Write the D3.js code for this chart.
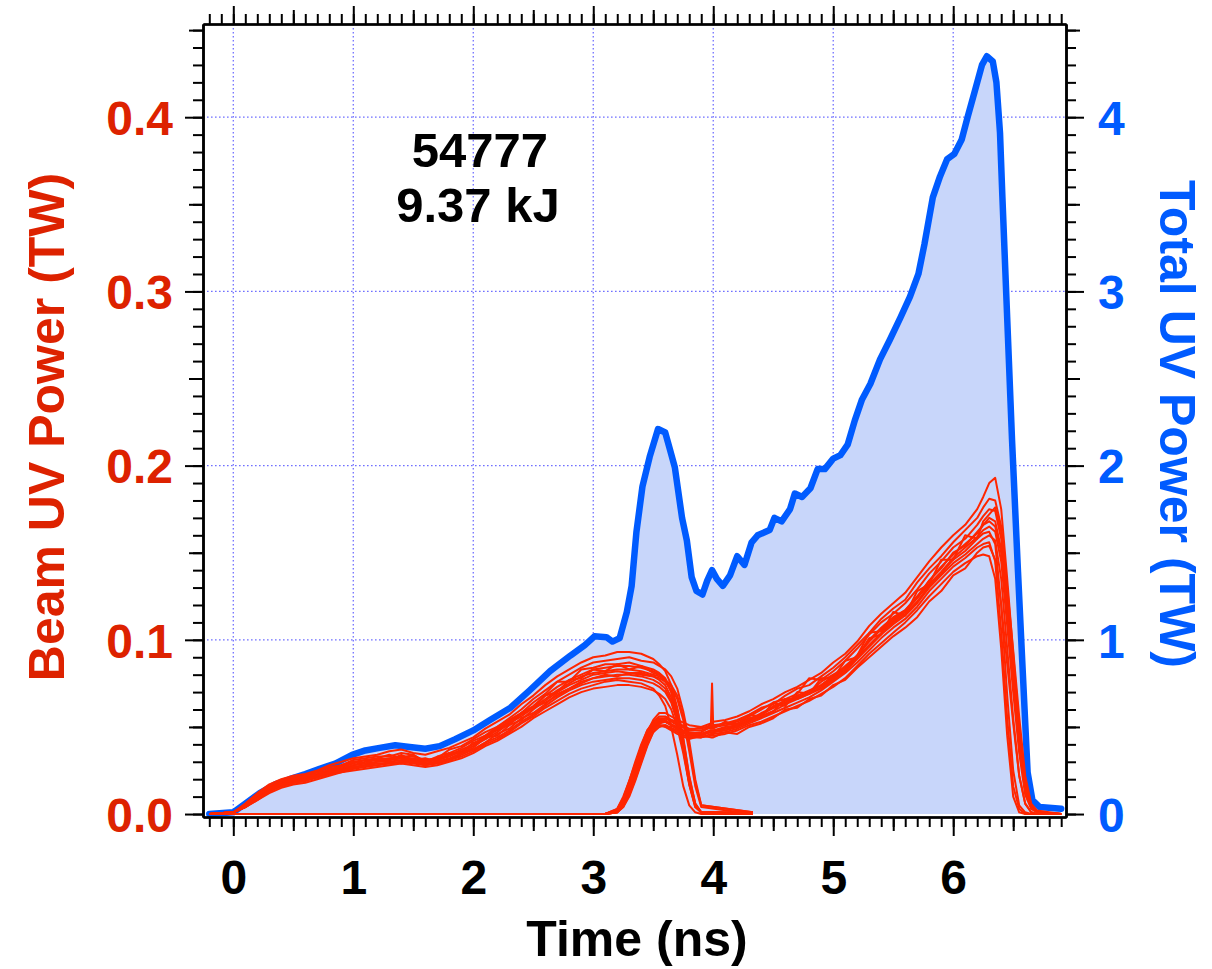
<!DOCTYPE html>
<html>
<head>
<meta charset="utf-8">
<script src="https://cdn.jsdelivr.net/npm/d3@7"></script>
<style>
  html, body { margin: 0; padding: 0; background: #fff; }
  svg { display: block; font-family: "Liberation Sans", Arial, Helvetica, sans-serif; font-weight: bold; }
</style>
</head>
<body>
<svg id="chart" width="1212" height="969"></svg>
<script>
// ---------------- Data ----------------
// Shot annotation
const shotNumber = "54777";
const shotEnergy = "9.37 kJ";

// Total UV power (TW) vs time (ns)
const totalTime = [-0.2, 0.0, 0.1, 0.22, 0.35, 0.47, 0.6, 0.72, 0.85, 0.99, 1.1, 1.22, 1.35, 1.47, 1.6, 1.72, 1.85, 2.0, 2.14, 2.31, 2.47, 2.64, 2.81, 2.93, 3.01, 3.11, 3.16, 3.22, 3.28, 3.32, 3.36, 3.41, 3.47, 3.54, 3.6, 3.64, 3.68, 3.74, 3.78, 3.82, 3.86, 3.91, 3.95, 3.99, 4.03, 4.08, 4.14, 4.2, 4.26, 4.32, 4.37, 4.47, 4.51, 4.57, 4.64, 4.68, 4.74, 4.81, 4.87, 4.93, 5.0, 5.06, 5.12, 5.18, 5.24, 5.31, 5.39, 5.47, 5.56, 5.64, 5.71, 5.76, 5.83, 5.89, 5.95, 6.01, 6.07, 6.12, 6.18, 6.24, 6.28, 6.33, 6.36, 6.39, 6.41, 6.49, 6.54, 6.58, 6.62, 6.66, 6.72, 6.9];
const totalPower = [0.0, 0.01, 0.06, 0.12, 0.17, 0.20, 0.23, 0.26, 0.29, 0.34, 0.365, 0.38, 0.395, 0.385, 0.375, 0.39, 0.43, 0.48, 0.54, 0.61, 0.71, 0.82, 0.91, 0.97, 1.02, 1.015, 0.99, 1.01, 1.16, 1.31, 1.62, 1.88, 2.05, 2.21, 2.19, 2.09, 1.99, 1.70, 1.57, 1.36, 1.28, 1.26, 1.34, 1.40, 1.35, 1.31, 1.37, 1.48, 1.43, 1.56, 1.60, 1.63, 1.70, 1.68, 1.75, 1.84, 1.82, 1.87, 1.98, 1.98, 2.04, 2.06, 2.12, 2.26, 2.38, 2.47, 2.61, 2.72, 2.85, 2.97, 3.10, 3.27, 3.54, 3.66, 3.76, 3.79, 3.87, 4.00, 4.15, 4.30, 4.35, 4.32, 4.20, 3.91, 3.54, 2.15, 1.39, 0.81, 0.24, 0.08, 0.04, 0.03];

// Foot-pulse beams: shared time base (ns) and power per beam (TW)
const footTime = [-0.2, 0.0, 0.1, 0.2, 0.3, 0.4, 0.5, 0.6, 0.7, 0.8, 0.9, 1.0, 1.1, 1.2, 1.3, 1.4, 1.5, 1.6, 1.7, 1.8, 1.9, 2.0, 2.1, 2.2, 2.3, 2.4, 2.5, 2.6, 2.7, 2.8, 2.9, 3.0, 3.1, 3.2, 3.3, 3.4, 3.5, 3.55, 3.6, 3.65, 3.7, 3.75, 3.8, 3.85, 3.9, 4.33];
const footBeam1  = [0, 0.001, 0.006, 0.012, 0.017, 0.020, 0.022, 0.023, 0.025, 0.028, 0.030, 0.032, 0.033, 0.034, 0.036, 0.037, 0.035, 0.034, 0.036, 0.038, 0.041, 0.044, 0.049, 0.053, 0.057, 0.063, 0.068, 0.074, 0.079, 0.083, 0.087, 0.090, 0.091, 0.093, 0.093, 0.092, 0.089, 0.086, 0.082, 0.074, 0.061, 0.043, 0.021, 0.006, 0.001, 0.001];
const footBeam2  = [0, 0.001, 0.005, 0.011, 0.016, 0.019, 0.021, 0.022, 0.024, 0.027, 0.028, 0.031, 0.032, 0.033, 0.033, 0.035, 0.034, 0.030, 0.032, 0.037, 0.039, 0.043, 0.047, 0.050, 0.055, 0.060, 0.066, 0.071, 0.076, 0.080, 0.084, 0.087, 0.088, 0.089, 0.090, 0.088, 0.087, 0.085, 0.083, 0.079, 0.072, 0.059, 0.042, 0.020, 0.005, 0.001];
const footBeam3  = [0, 0.001, 0.005, 0.010, 0.015, 0.019, 0.020, 0.022, 0.024, 0.025, 0.028, 0.030, 0.031, 0.032, 0.034, 0.032, 0.034, 0.030, 0.033, 0.035, 0.038, 0.042, 0.045, 0.050, 0.054, 0.058, 0.064, 0.069, 0.076, 0.076, 0.083, 0.084, 0.086, 0.086, 0.087, 0.085, 0.083, 0.081, 0.078, 0.070, 0.058, 0.041, 0.019, 0.005, 0.001, 0];
const footBeam4  = [0, 0.001, 0.004, 0.010, 0.015, 0.018, 0.020, 0.021, 0.023, 0.025, 0.027, 0.029, 0.031, 0.031, 0.032, 0.033, 0.033, 0.031, 0.032, 0.034, 0.037, 0.040, 0.045, 0.048, 0.053, 0.058, 0.062, 0.068, 0.073, 0.077, 0.080, 0.083, 0.084, 0.085, 0.085, 0.084, 0.082, 0.080, 0.077, 0.070, 0.057, 0.040, 0.019, 0.005, 0.001, 0];
const footBeam5  = [0, 0.001, 0.005, 0.009, 0.014, 0.018, 0.019, 0.021, 0.022, 0.025, 0.026, 0.028, 0.030, 0.031, 0.031, 0.032, 0.032, 0.030, 0.031, 0.034, 0.036, 0.039, 0.043, 0.047, 0.052, 0.056, 0.061, 0.066, 0.071, 0.075, 0.079, 0.081, 0.082, 0.083, 0.083, 0.082, 0.080, 0.079, 0.077, 0.074, 0.068, 0.056, 0.039, 0.018, 0.005, 0.001];
const footBeam6  = [0, 0.001, 0.005, 0.010, 0.014, 0.017, 0.019, 0.020, 0.022, 0.024, 0.026, 0.028, 0.029, 0.030, 0.031, 0.032, 0.031, 0.030, 0.031, 0.033, 0.036, 0.039, 0.044, 0.045, 0.051, 0.054, 0.060, 0.065, 0.070, 0.074, 0.077, 0.080, 0.081, 0.082, 0.081, 0.081, 0.079, 0.077, 0.074, 0.067, 0.055, 0.039, 0.018, 0.005, 0.001, 0];
const footBeam7  = [0, 0.001, 0.004, 0.009, 0.014, 0.017, 0.019, 0.020, 0.022, 0.023, 0.026, 0.027, 0.028, 0.030, 0.030, 0.031, 0.031, 0.029, 0.030, 0.032, 0.035, 0.038, 0.044, 0.049, 0.053, 0.057, 0.061, 0.064, 0.068, 0.072, 0.075, 0.078, 0.079, 0.080, 0.080, 0.079, 0.077, 0.075, 0.072, 0.065, 0.054, 0.038, 0.018, 0.005, 0.001, 0];
const footBeam8  = [0, 0.001, 0.004, 0.009, 0.013, 0.016, 0.018, 0.020, 0.021, 0.023, 0.025, 0.027, 0.028, 0.029, 0.029, 0.030, 0.030, 0.029, 0.029, 0.031, 0.034, 0.037, 0.041, 0.044, 0.048, 0.053, 0.057, 0.062, 0.067, 0.071, 0.074, 0.076, 0.077, 0.078, 0.078, 0.077, 0.075, 0.073, 0.070, 0.064, 0.053, 0.037, 0.017, 0.004, 0.001, 0.001];
const footBeam9  = [0, 0.001, 0.004, 0.008, 0.013, 0.016, 0.018, 0.019, 0.021, 0.023, 0.024, 0.026, 0.027, 0.028, 0.029, 0.030, 0.029, 0.028, 0.029, 0.031, 0.033, 0.036, 0.040, 0.043, 0.047, 0.052, 0.056, 0.061, 0.065, 0.069, 0.072, 0.074, 0.076, 0.077, 0.076, 0.075, 0.072, 0.068, 0.062, 0.050, 0.034, 0.016, 0.005, 0.001, 0, 0];
const footBeam10 = [0, 0.001, 0.004, 0.008, 0.012, 0.015, 0.017, 0.018, 0.020, 0.022, 0.024, 0.025, 0.026, 0.027, 0.028, 0.029, 0.028, 0.027, 0.028, 0.030, 0.032, 0.035, 0.039, 0.042, 0.046, 0.050, 0.055, 0.059, 0.063, 0.067, 0.070, 0.072, 0.073, 0.074, 0.074, 0.073, 0.071, 0.069, 0.066, 0.060, 0.050, 0.035, 0.017, 0.004, 0.001, 0];
const footBeam11 = [0, 0.001, 0.005, 0.011, 0.015, 0.017, 0.020, 0.022, 0.022, 0.026, 0.027, 0.030, 0.029, 0.032, 0.031, 0.034, 0.031, 0.032, 0.030, 0.035, 0.035, 0.041, 0.043, 0.049, 0.051, 0.058, 0.061, 0.068, 0.070, 0.077, 0.078, 0.083, 0.082, 0.086, 0.083, 0.085, 0.081, 0.080, 0.076, 0.071, 0.060, 0.044, 0.022, 0.006, 0.001, 0];
const footBeam12 = [0, 0.001, 0.004, 0.009, 0.013, 0.017, 0.018, 0.019, 0.022, 0.024, 0.025, 0.026, 0.028, 0.028, 0.030, 0.029, 0.030, 0.028, 0.030, 0.031, 0.035, 0.037, 0.041, 0.046, 0.049, 0.055, 0.058, 0.063, 0.069, 0.072, 0.076, 0.078, 0.080, 0.079, 0.081, 0.080, 0.079, 0.078, 0.076, 0.073, 0.066, 0.054, 0.036, 0.016, 0.004, 0];

// Main-pulse beams: shared time base (ns) and power per beam (TW)
const mainTime = [-0.2, 3.1, 3.2, 3.25, 3.3, 3.35, 3.4, 3.45, 3.5, 3.55, 3.6, 3.7, 3.8, 3.9, 3.98, 3.99, 4.0, 4.1, 4.2, 4.3, 4.4, 4.5, 4.6, 4.7, 4.8, 4.9, 5.0, 5.1, 5.2, 5.3, 5.4, 5.5, 5.6, 5.7, 5.8, 5.9, 6.0, 6.1, 6.2, 6.25, 6.3, 6.35, 6.4, 6.45, 6.5, 6.55, 6.6, 6.65, 6.7, 6.9];
const mainBeam1  = [0, 0, 0.001, 0.005, 0.013, 0.024, 0.036, 0.047, 0.054, 0.058, 0.058, 0.054, 0.051, 0.050, 0.052, 0.052, 0.053, 0.054, 0.056, 0.059, 0.063, 0.066, 0.070, 0.073, 0.077, 0.081, 0.087, 0.092, 0.099, 0.108, 0.115, 0.121, 0.127, 0.136, 0.145, 0.153, 0.160, 0.166, 0.175, 0.182, 0.190, 0.193, 0.175, 0.135, 0.092, 0.050, 0.018, 0.005, 0.001, 0];
const mainBeam2  = [0, 0, 0.002, 0.008, 0.017, 0.028, 0.039, 0.048, 0.053, 0.056, 0.056, 0.052, 0.049, 0.049, 0.051, 0.051, 0.051, 0.052, 0.054, 0.057, 0.061, 0.063, 0.068, 0.072, 0.074, 0.079, 0.084, 0.090, 0.097, 0.104, 0.112, 0.118, 0.123, 0.133, 0.141, 0.148, 0.156, 0.163, 0.170, 0.176, 0.181, 0.180, 0.165, 0.128, 0.088, 0.048, 0.016, 0.004, 0.001, 0];
const mainBeam3  = [0, 0, 0.001, 0.006, 0.014, 0.024, 0.035, 0.045, 0.052, 0.055, 0.055, 0.051, 0.048, 0.048, 0.050, 0.050, 0.050, 0.052, 0.053, 0.056, 0.060, 0.064, 0.066, 0.069, 0.078, 0.077, 0.082, 0.088, 0.095, 0.103, 0.110, 0.115, 0.121, 0.129, 0.138, 0.145, 0.153, 0.158, 0.166, 0.171, 0.175, 0.174, 0.158, 0.125, 0.088, 0.050, 0.018, 0.005, 0.001, 0];
const mainBeam4  = [0, 0, 0.003, 0.009, 0.018, 0.028, 0.038, 0.046, 0.051, 0.053, 0.053, 0.050, 0.046, 0.046, 0.048, 0.048, 0.048, 0.049, 0.051, 0.054, 0.058, 0.061, 0.064, 0.068, 0.071, 0.074, 0.079, 0.085, 0.091, 0.099, 0.106, 0.112, 0.117, 0.124, 0.134, 0.142, 0.149, 0.155, 0.161, 0.166, 0.170, 0.168, 0.152, 0.118, 0.082, 0.044, 0.015, 0.004, 0.001, 0];
const mainBeam5  = [0, 0, 0.002, 0.007, 0.015, 0.025, 0.036, 0.045, 0.051, 0.054, 0.054, 0.049, 0.046, 0.047, 0.050, 0.075, 0.050, 0.051, 0.052, 0.055, 0.057, 0.062, 0.065, 0.067, 0.070, 0.076, 0.080, 0.084, 0.091, 0.100, 0.107, 0.113, 0.117, 0.125, 0.134, 0.141, 0.150, 0.154, 0.162, 0.166, 0.168, 0.165, 0.150, 0.115, 0.078, 0.040, 0.013, 0.004, 0.001, 0];
const mainBeam6  = [0, 0, 0.002, 0.006, 0.013, 0.023, 0.034, 0.043, 0.050, 0.053, 0.053, 0.049, 0.047, 0.046, 0.048, 0.048, 0.048, 0.050, 0.051, 0.054, 0.057, 0.061, 0.064, 0.067, 0.070, 0.074, 0.079, 0.083, 0.091, 0.104, 0.105, 0.111, 0.116, 0.124, 0.132, 0.139, 0.147, 0.153, 0.159, 0.163, 0.165, 0.162, 0.145, 0.108, 0.070, 0.035, 0.011, 0.003, 0.001, 0];
const mainBeam7  = [0, 0, 0.003, 0.010, 0.019, 0.030, 0.040, 0.048, 0.052, 0.054, 0.053, 0.049, 0.045, 0.046, 0.047, 0.047, 0.047, 0.049, 0.050, 0.053, 0.056, 0.059, 0.063, 0.066, 0.069, 0.073, 0.078, 0.083, 0.090, 0.097, 0.104, 0.110, 0.115, 0.122, 0.131, 0.138, 0.146, 0.151, 0.158, 0.161, 0.162, 0.155, 0.120, 0.068, 0.025, 0.005, 0.001, 0, 0, 0];
const mainBeam8  = [0, 0, 0.001, 0.005, 0.012, 0.021, 0.032, 0.042, 0.049, 0.052, 0.053, 0.049, 0.046, 0.045, 0.047, 0.047, 0.047, 0.048, 0.050, 0.053, 0.056, 0.059, 0.066, 0.066, 0.069, 0.072, 0.077, 0.082, 0.089, 0.096, 0.103, 0.109, 0.114, 0.121, 0.130, 0.137, 0.144, 0.149, 0.155, 0.158, 0.160, 0.157, 0.135, 0.095, 0.055, 0.022, 0.006, 0.001, 0, 0];
const mainBeam9  = [0, 0, 0.002, 0.008, 0.016, 0.026, 0.036, 0.044, 0.049, 0.051, 0.051, 0.048, 0.045, 0.044, 0.046, 0.046, 0.046, 0.047, 0.049, 0.052, 0.055, 0.058, 0.061, 0.064, 0.067, 0.071, 0.076, 0.081, 0.087, 0.094, 0.101, 0.107, 0.112, 0.119, 0.128, 0.135, 0.142, 0.147, 0.153, 0.155, 0.156, 0.145, 0.105, 0.055, 0.016, 0.003, 0, 0, 0, 0];
const mainBeam10 = [0, 0, 0.001, 0.004, 0.011, 0.020, 0.030, 0.040, 0.047, 0.050, 0.051, 0.047, 0.044, 0.044, 0.045, 0.045, 0.045, 0.046, 0.048, 0.051, 0.053, 0.056, 0.059, 0.062, 0.065, 0.069, 0.073, 0.078, 0.085, 0.092, 0.098, 0.104, 0.110, 0.117, 0.125, 0.132, 0.139, 0.144, 0.148, 0.149, 0.148, 0.135, 0.095, 0.045, 0.010, 0.001, 0, 0, 0, 0];
const mainBeam11 = [0, 0, 0.001, 0.004, 0.010, 0.019, 0.029, 0.039, 0.047, 0.052, 0.055, 0.053, 0.048, 0.050, 0.049, 0.049, 0.049, 0.053, 0.051, 0.057, 0.056, 0.064, 0.062, 0.070, 0.069, 0.078, 0.078, 0.088, 0.090, 0.101, 0.103, 0.116, 0.114, 0.128, 0.132, 0.146, 0.146, 0.160, 0.158, 0.168, 0.172, 0.176, 0.162, 0.130, 0.094, 0.056, 0.022, 0.006, 0.002, 0];
const mainBeam12 = [0, 0, 0.002, 0.009, 0.019, 0.029, 0.038, 0.045, 0.049, 0.051, 0.050, 0.046, 0.043, 0.045, 0.044, 0.044, 0.044, 0.047, 0.046, 0.050, 0.052, 0.055, 0.060, 0.061, 0.066, 0.068, 0.074, 0.077, 0.084, 0.090, 0.096, 0.102, 0.107, 0.113, 0.122, 0.128, 0.137, 0.141, 0.150, 0.153, 0.154, 0.146, 0.120, 0.086, 0.052, 0.022, 0.006, 0.001, 0, 0];

// Axis tick labels
const timeTicks  = [0, 1, 2, 3, 4, 5, 6];
const beamTicks  = [0.0, 0.1, 0.2, 0.3, 0.4];
const totalTicks = [0, 1, 2, 3, 4];

// ---------------- Layout & scales ----------------
const plot = { left: 203, right: 1066, top: 24, bottom: 817 };
const COLOR_BEAM_LINE = "#ff2600";
const COLOR_BEAM_TEXT = "#dd2200";
const COLOR_TOTAL = "#005bff";
const COLOR_FILL = "#c8d6fa";
const COLOR_GRID = "#7070ff";
const FONT = '"Liberation Sans", Arial, Helvetica, sans-serif';

const x = d3.scaleLinear().domain([-0.2525, 6.94]).range([plot.left, plot.right]);
const yBeam = d3.scaleLinear().domain([-0.0017, 0.4535]).range([plot.bottom, plot.top]);
const yTotal = d3.scaleLinear().domain([-0.017, 4.535]).range([plot.bottom, plot.top]);

const svg = d3.select("#chart");

svg.append("defs").append("clipPath").attr("id", "plotClip")
  .append("rect")
  .attr("x", plot.left).attr("y", plot.top)
  .attr("width", plot.right - plot.left).attr("height", plot.bottom - plot.top);

// ---------------- Grid ----------------
const grid = svg.append("g").attr("stroke", COLOR_GRID).attr("stroke-width", 1.3)
  .attr("stroke-dasharray", "1.6,2.4");
grid.selectAll("line.v").data(timeTicks).join("line")
  .attr("x1", d => x(d)).attr("x2", d => x(d))
  .attr("y1", plot.top).attr("y2", plot.bottom);
grid.selectAll("line.h").data(beamTicks.filter(d => d > 0)).join("line")
  .attr("x1", plot.left).attr("x2", plot.right)
  .attr("y1", d => yBeam(d)).attr("y2", d => yBeam(d));

// ---------------- Total power (filled) ----------------
const totalData = totalTime.map((t, i) => ({ t, v: totalPower[i] }));
const plotG = svg.append("g").attr("clip-path", "url(#plotClip)");

plotG.append("path").datum(totalData)
  .attr("fill", COLOR_FILL)
  .attr("d", d3.area().x(d => x(d.t)).y0(yTotal(0)).y1(d => yTotal(d.v)));

plotG.append("path").datum(totalData)
  .attr("fill", "none").attr("stroke", COLOR_TOTAL).attr("stroke-width", 6.5)
  .attr("stroke-linejoin", "round").attr("stroke-linecap", "round")
  .attr("d", d3.line().x(d => x(d.t)).y(d => yTotal(d.v)));

// ---------------- Individual beams ----------------
const footBeams = [footBeam1, footBeam2, footBeam3, footBeam4, footBeam5, footBeam6, footBeam7, footBeam8, footBeam9, footBeam10, footBeam11, footBeam12];
const mainBeams = [mainBeam1, mainBeam2, mainBeam3, mainBeam4, mainBeam5, mainBeam6, mainBeam7, mainBeam8, mainBeam9, mainBeam10, mainBeam11, mainBeam12];
const beamLine = d3.line().x(d => x(d.t)).y(d => yBeam(d.v));
const toPoints = (times, vals) => times.map((t, i) => ({ t, v: vals[i] })).filter(d => d.v !== undefined);

const beamG = plotG.append("g").attr("fill", "none").attr("stroke", COLOR_BEAM_LINE)
  .attr("stroke-width", 2).attr("stroke-linejoin", "round");
beamG.selectAll("path.foot").data(footBeams).join("path")
  .attr("d", vals => beamLine(toPoints(footTime, vals)));
beamG.selectAll("path.main").data(mainBeams).join("path")
  .attr("d", vals => beamLine(toPoints(mainTime, vals)));

// ---------------- Axes ----------------
const range = (a, b) => d3.range(a, b + 1);
const timeMinor = range(-2, 69).map(i => i / 10);
const timeMid = range(-2, 69).filter(i => i % 5 === 0 && i % 10 !== 0).map(i => i / 10);
const beamMinor = range(0, 45).map(i => i / 100);
const beamMid = range(0, 45).filter(i => i % 5 === 0 && i % 10 !== 0).map(i => i / 100);
const totalMinor = range(0, 45).map(i => i / 10);
const totalMid = range(0, 45).filter(i => i % 5 === 0 && i % 10 !== 0).map(i => i / 10);

function styleAxis(g) {
  g.attr("color", "#000");
  g.selectAll(".domain").attr("stroke-width", 2.2);
  g.selectAll(".tick line").attr("stroke-width", 2);
}
function addAxis(gen, translate, sets) {
  sets.forEach(s => {
    const g = svg.append("g").attr("transform", translate)
      .call(gen().tickValues(s.values).tickSize(s.size).tickSizeOuter(0)
        .tickPadding(s.pad || 3).tickFormat(s.format || (() => "")));
    styleAxis(g);
    if (!s.format) g.selectAll("text").remove();
    else {
      g.attr("font-family", FONT).attr("font-size", 48).attr("font-weight", "bold");
      g.selectAll("text").attr("fill", s.color).attr("dy", s.dy);
    }
  });
}

// bottom
addAxis(() => d3.axisBottom(x), `translate(0,${plot.bottom})`, [
  { values: timeMinor, size: 10 },
  { values: timeMid, size: 14 },
  { values: timeTicks, size: 19, pad: 24, format: d3.format("d"), color: "#000", dy: "0.71em" }
]);
// top
addAxis(() => d3.axisTop(x), `translate(0,${plot.top})`, [
  { values: timeMinor, size: 10 },
  { values: timeMid, size: 14 },
  { values: timeTicks, size: 18 }
]);
// left (beam power)
addAxis(() => d3.axisLeft(yBeam), `translate(${plot.left},0)`, [
  { values: beamMinor, size: 10 },
  { values: beamMid, size: 14 },
  { values: beamTicks, size: 18, pad: 12, format: d3.format(".1f"), color: COLOR_BEAM_TEXT, dy: "0.36em" }
]);
// right (total power)
addAxis(() => d3.axisRight(yTotal), `translate(${plot.right},0)`, [
  { values: totalMinor, size: 10 },
  { values: totalMid, size: 14 },
  { values: totalTicks, size: 18, pad: 14, format: d3.format("d"), color: COLOR_TOTAL, dy: "0.36em" }
]);

// ---------------- Titles ----------------
svg.append("text")
  .attr("x", 637).attr("y", 956)
  .attr("text-anchor", "middle").attr("font-size", 50).attr("font-family", FONT)
  .attr("font-weight", "bold").attr("fill", "#000")
  .text("Time (ns)");

svg.append("text")
  .attr("transform", "translate(64,427) rotate(-90)")
  .attr("text-anchor", "middle").attr("font-size", 50).attr("font-family", FONT)
  .attr("font-weight", "bold").attr("fill", COLOR_BEAM_TEXT)
  .text("Beam UV Power (TW)");

svg.append("text")
  .attr("transform", "translate(1160,424) rotate(90)")
  .attr("text-anchor", "middle").attr("font-size", 50).attr("font-family", FONT)
  .attr("font-weight", "bold").attr("fill", COLOR_TOTAL)
  .text("Total UV Power (TW)");

// ---------------- Shot annotation ----------------
const note = svg.append("g").attr("font-family", FONT).attr("font-weight", "bold")
  .attr("font-size", 49).attr("fill", "#000").attr("text-anchor", "middle");
note.append("text").attr("x", 480).attr("y", 167).text(shotNumber);
note.append("text").attr("x", 478).attr("y", 222).text(shotEnergy);
</script>
</body>
</html>
